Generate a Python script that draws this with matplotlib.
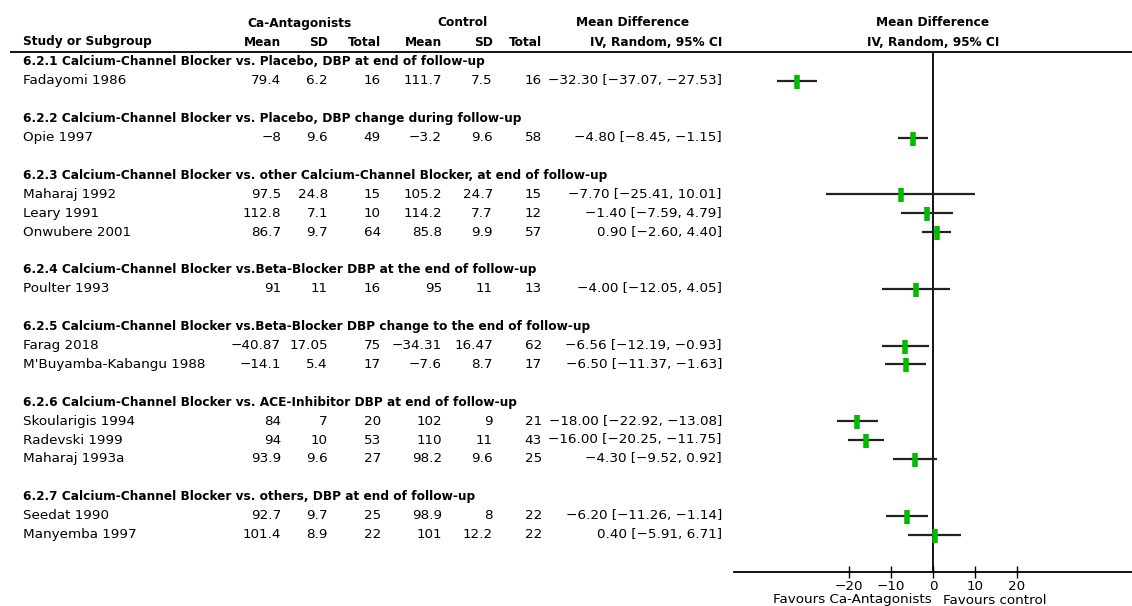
import matplotlib
matplotlib.use("Agg")
import matplotlib.pyplot as plt

# ---------------- data ----------------
subgroups = [
    "6.2.1 Calcium-Channel Blocker vs. Placebo, DBP at end of follow-up",
    "6.2.2 Calcium-Channel Blocker vs. Placebo, DBP change during follow-up",
    "6.2.3 Calcium-Channel Blocker vs. other Calcium-Channel Blocker, at end of follow-up",
    "6.2.4 Calcium-Channel Blocker vs.Beta-Blocker DBP at the end of follow-up",
    "6.2.5 Calcium-Channel Blocker vs.Beta-Blocker DBP change to the end of follow-up",
    "6.2.6 Calcium-Channel Blocker vs. ACE-Inhibitor DBP at end of follow-up",
    "6.2.7 Calcium-Channel Blocker vs. others, DBP at end of follow-up",
]
subgroup_of_study = [0, 1, 2, 2, 2, 3, 4, 4, 5, 5, 5, 6, 6]
studies = ["Fadayomi 1986", "Opie 1997", "Maharaj 1992", "Leary 1991", "Onwubere 2001",
           "Poulter 1993", "Farag 2018", "M'Buyamba-Kabangu 1988", "Skoularigis 1994",
           "Radevski 1999", "Maharaj 1993a", "Seedat 1990", "Manyemba 1997"]
ca_mean = [79.4, -8, 97.5, 112.8, 86.7, 91, -40.87, -14.1, 84, 94, 93.9, 92.7, 101.4]
ca_sd = [6.2, 9.6, 24.8, 7.1, 9.7, 11, 17.05, 5.4, 7, 10, 9.6, 9.7, 8.9]
ca_n = [16, 49, 15, 10, 64, 16, 75, 17, 20, 53, 27, 25, 22]
ctrl_mean = [111.7, -3.2, 105.2, 114.2, 85.8, 95, -34.31, -7.6, 102, 110, 98.2, 98.9, 101]
ctrl_sd = [7.5, 9.6, 24.7, 7.7, 9.9, 11, 16.47, 8.7, 9, 11, 9.6, 8, 12.2]
ctrl_n = [16, 58, 15, 12, 57, 13, 62, 17, 21, 43, 25, 22, 22]
md = [-32.30, -4.80, -7.70, -1.40, 0.90, -4.00, -6.56, -6.50, -18.00, -16.00, -4.30, -6.20, 0.40]
ci_lo = [-37.07, -8.45, -25.41, -7.59, -2.60, -12.05, -12.19, -11.37, -22.92, -20.25, -9.52, -11.26, -5.91]
ci_hi = [-27.53, -1.15, 10.01, 4.79, 4.40, 4.05, -0.93, -1.63, -13.08, -11.75, 0.92, -1.14, 6.71]
xticks = [-20, -10, 0, 10, 20]
favours_left = "Favours Ca-Antagonists"
favours_right = "Favours control"

# ---------------- layout ----------------
W, H = 1132, 606
FS = 9.7
fig = plt.figure(figsize=(W / 100, H / 100), dpi=100)
ax = fig.add_axes([0, 0, 1, 1])
ax.set_xlim(0, W)
ax.set_ylim(H, 0)
ax.axis("off")

def fmt(v):
    return f"{v:g}".replace("-", "\u2212")

def fmt2(v):
    return f"{v:.2f}".replace("-", "\u2212")

def mdtxt(m, lo, hi):
    return f"{fmt2(m)} [{fmt2(lo)}, {fmt2(hi)}]"

# header
y_h1, y_h2 = 23, 42
bold = dict(fontsize=FS, fontweight="bold", fontstretch="condensed", va="center")
ax.text(300, y_h1, "Ca-Antagonists", ha="center", **bold)
ax.text(462, y_h1, "Control", ha="center", **bold)
ax.text(633, y_h1, "Mean Difference", ha="center", **bold)
ax.text(933, y_h1, "Mean Difference", ha="center", **bold)
ax.text(23, y_h2, "Study or Subgroup", ha="left", **bold)
col_x = [281, 328, 381, 442, 493, 542]
for x, lab in zip(col_x, ["Mean", "SD", "Total", "Mean", "SD", "Total"]):
    ax.text(x, y_h2, lab, ha="right", **bold)
ax.text(722, y_h2, "IV, Random, 95% CI", ha="right", **bold)
ax.text(933, y_h2, "IV, Random, 95% CI", ha="center", **bold)
ax.plot([10, W], [52, 52], color="black", lw=1.3, solid_capstyle="butt")

# rows
row0, step = 62.0, 18.9
row = 0
study_rows = []
prev = -1
for i, s in enumerate(studies):
    g = subgroup_of_study[i]
    if g != prev:
        if prev != -1:
            row += 1  # blank line
        y = row0 + row * step
        ax.text(23, y, subgroups[g], ha="left", **bold)
        row += 1
        prev = g
    y = row0 + row * step
    study_rows.append(y)
    norm = dict(fontsize=FS, va="center")
    ax.text(23, y, s, ha="left", **norm)
    vals = [fmt(ca_mean[i]), fmt(ca_sd[i]), str(ca_n[i]),
            fmt(ctrl_mean[i]), fmt(ctrl_sd[i]), str(ctrl_n[i])]
    for x, v in zip(col_x, vals):
        ax.text(x, y, v, ha="right", **norm)
    ax.text(722, y, mdtxt(md[i], ci_lo[i], ci_hi[i]), ha="right", **norm)
    row += 1

# forest plot axes
x0_px, scale = 933.0, 4.2
left_px, right_px = 734, W
y_top, y_axis = 52, 572
fa = fig.add_axes([left_px / W, (H - y_axis) / H, (right_px - left_px) / W, (y_axis - y_top) / H])
fa.set_xlim((left_px - x0_px) / scale, (right_px - x0_px) / scale)
fa.set_ylim(y_axis, y_top)
fa.patch.set_alpha(0)
for sp in ["top", "right", "left"]:
    fa.spines[sp].set_visible(False)
fa.spines["bottom"].set_linewidth(1.3)
fa.set_yticks([])
fa.set_xticks(xticks)
fa.set_xticklabels([fmt(t) for t in xticks], fontsize=FS)
fa.tick_params(axis="x", direction="inout", length=9, width=1.0, pad=1)
fa.axvline(0, color="black", lw=1.3)
for i, y in enumerate(study_rows):
    fa.plot([ci_lo[i], ci_hi[i]], [y, y], color="#222222", lw=1.6, solid_capstyle="butt")
    fa.plot([md[i]], [y + 1], marker="|", markersize=10, mew=4, color="#00bb00", linestyle="none")

ax.text(932, 600, favours_left, ha="right", va="center", fontsize=FS)
ax.text(943, 600, favours_right, ha="left", va="center", fontsize=FS)

fig.savefig("out.png", dpi=100)
